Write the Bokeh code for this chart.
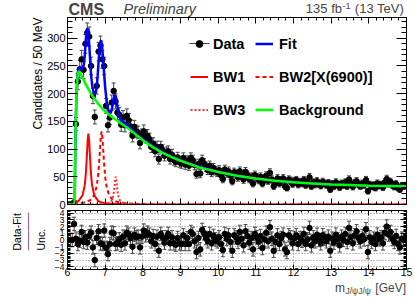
import numpy as np
from bokeh.plotting import figure
from bokeh.models import (ColumnDataSource, Label, Legend, LegendItem, LinearAxis,
                          Range1d, FixedTicker, Title)
from bokeh.layouts import column
from bokeh.embed import file_html
from bokeh.resources import INLINE

FONT = "Liberation Sans"

# ---------------- data ----------------
bin_start = 6.0
bin_width = 0.05
counts = [
    0, 0, 0, 4, 145, 222, 244, 262, 243, 290,
    310, 303, 250, 196, 158, 214, 276, 287, 262, 250,
    178, 143, 157, 184, 205, 186, 166, 162, 144, 157,
    143, 160, 152, 141, 124, 140, 132, 130, 111, 125,
    132, 122, 124, 118, 104, 110, 96, 104, 82, 104,
    98, 88, 94, 96, 82, 90, 80, 77, 85, 76,
    74, 84, 72, 79, 70, 84, 80, 71, 55, 73,
    56, 80, 74, 68, 62, 70, 58, 66, 61, 58,
    62, 53, 46, 63, 57, 60, 52, 42, 58, 55,
    49, 60, 52, 45, 59, 53, 46, 50, 38, 53,
    49, 44, 50, 38, 46, 52, 43, 57, 45, 33,
    41, 47, 38, 44, 47, 33, 30, 45, 43, 37,
    42, 44, 36, 41, 38, 44, 35, 39, 49, 33,
    40, 36, 42, 37, 34, 41, 38, 35, 39, 27,
    37, 33, 40, 36, 31, 38, 35, 40, 33, 45,
    37, 32, 39, 42, 36, 33, 38, 35, 44, 24,
    36, 32, 35, 30, 38, 34, 36, 31, 40, 46,
    38, 41, 35, 32, 37, 30, 27, 34, 33, 34,
]
pulls = [
    0, 0, 0, 2.4, 0.2, -0.6, -0.1, 1.2, -0.3, 0.4,
    -0.4, 0.6, 1.1, -1.1, -3.0, 0.3, 1.3, -0.5, -0.6, 1.4,
    -1.2, -2.1, -0.6, 1.1, 1.0, -0.6, -0.5, 0.1, -0.7, 0.5,
    -0.5, 1.1, 0.8, 0.3, -1.0, 0.8, 0.4, 0.5, -1.1, 0.5,
    1.4, 0.7, 1.1, 0.8, -0.2, 0.6, -0.6, 0.5, -1.6, 0.9,
    0.4, -0.4, 0.4, 0.9, -0.5, 0.4, -0.5, -0.7, 0.3, -0.5,
    -0.6, 0.7, -0.6, 0.3, -0.6, 1.2, 0.9, -0.2, -1.8, 0.3,
    -1.4, 1.5, 1.0, 0.3, -0.2, 0.9, -0.5, 0.6, 0.1, -0.2,
    0.4, -0.6, -1.5, 0.9, 0.2, 0.7, -0.3, -1.6, 0.7, 0.4,
    -0.3, 1.2, 0.2, -0.8, 1.3, 0.6, -0.4, 0.3, -1.4, 0.9,
    0.4, -0.3, 0.6, -1.2, 0.1, 1.1, -0.2, 1.9, 0.2, -1.6,
    -0.3, 0.7, -0.6, 0.3, 0.8, -1.4, -1.8, 0.7, 0.4, -0.5,
    0.3, 0.7, -0.6, 0.3, -0.1, 0.9, -0.6, 0.1, 1.8, -0.8,
    0.4, -0.2, 0.8, 0.0, -0.5, 0.7, 0.2, -0.2, 0.5, -1.6,
    0.2, -0.4, 0.8, 0.1, -0.8, 0.5, 0.0, 0.9, -0.3, 1.8,
    0.4, -0.5, 0.7, 1.3, 0.3, -0.2, 0.6, 0.1, 1.6, -1.8,
    0.4, -0.3, 0.2, -0.6, 0.8, 0.1, 0.4, -0.5, 1.1, 2.0,
    0.8, 1.2, 0.2, -0.3, 0.6, -0.6, -1.1, 0.2, 0.0, 0.3,
]

fit_x = [6.0, 6.19, 6.2, 6.21, 6.22, 6.235, 6.25, 6.265, 6.28, 6.3,
         6.33, 6.36, 6.39, 6.42, 6.44, 6.46, 6.48, 6.5, 6.515, 6.53,
         6.545, 6.56, 6.58, 6.6, 6.62, 6.64, 6.66, 6.68, 6.7, 6.72,
         6.74, 6.76, 6.78, 6.8, 6.82, 6.84, 6.86, 6.88, 6.895, 6.91,
         6.93, 6.95, 6.97, 7.0, 7.03, 7.06, 7.09, 7.12, 7.15, 7.18,
         7.21, 7.235, 7.26, 7.285, 7.31, 7.34, 7.37, 7.4, 7.45, 7.5,
         7.6, 7.7, 7.8, 7.9, 8.0, 8.25, 8.5, 8.75, 9.0, 9.5,
         10.0, 10.5, 11.0, 11.5, 12.0, 12.5, 13.0, 13.5, 14.0, 14.5, 15.0]
fit_y = [0, 0, 62, 110, 152, 190, 215, 232, 240, 246,
         247, 245, 244, 248, 256, 270, 290, 308, 316, 318,
         314, 304, 285, 262, 240, 224, 213, 206, 202, 200,
         201, 206, 216, 232, 252, 272, 287, 295, 296, 290,
         277, 258, 238, 212, 192, 178, 169, 165, 166, 172,
         184, 194, 198, 195, 184, 170, 160, 155, 151, 148,
         143, 136, 129, 123, 118, 106, 96, 87, 80, 68,
         59, 52, 47, 43, 40, 38, 36, 35, 34, 33.5, 33]

bkg_x = [6.0, 6.19, 6.195, 6.2, 6.21, 6.22, 6.235, 6.25, 6.265, 6.28,
         6.3, 6.32, 6.35, 6.4, 6.5, 6.6, 6.7, 6.8, 6.9, 7.0,
         7.2, 7.4, 7.6, 7.8, 8.0, 8.25, 8.5, 8.75, 9.0, 9.5,
         10.0, 10.5, 11.0, 11.5, 12.0, 12.5, 13.0, 13.5, 14.0, 14.5, 15.0]
bkg_y = [0, 0, 25, 60, 110, 150, 190, 213, 228, 236,
         240, 240, 236, 229, 215, 203, 192, 183, 175, 168,
         157, 147, 138, 127, 116, 104, 94, 86, 79, 67,
         58.5, 52, 47, 43, 40, 38, 36, 35, 34, 33.5, 33]

bw1_x = [6.0, 6.19, 6.2, 6.3, 6.4, 6.455, 6.475, 6.495, 6.515, 6.535, 6.555,
         6.575, 6.595, 6.615, 6.635, 6.655, 6.71, 6.81, 6.91, 7.055, 7.555, 8.5, 15.0]
bw1_y = [0, 0, 3.5, 6.7, 16.7, 34, 46, 64, 89, 115, 128,
         115, 89, 64, 46, 34, 16.7, 6.7, 3.5, 1.8, 0.46, 0.1, 0]

bw2_x = [6.0, 6.19, 6.2, 6.405, 6.605, 6.705, 6.775, 6.805, 6.83, 6.855, 6.88, 6.905,
         6.93, 6.955, 6.98, 7.005, 7.035, 7.105, 7.205, 7.405, 7.905, 9.0, 15.0]
bw2_y = [0, 0, 1.5, 2.9, 7.8, 16.3, 33, 47.5, 66, 91, 119, 132,
         119, 91, 66, 47.5, 33, 16.3, 7.8, 2.9, 0.74, 0.2, 0]

bw3_x = [6.0, 6.19, 6.88, 7.08, 7.16, 7.2, 7.22, 7.235, 7.25, 7.265, 7.28,
         7.295, 7.31, 7.325, 7.34, 7.36, 7.4, 7.48, 7.68, 9.0, 15.0]
bw3_y = [0, 0, 0.6, 2.4, 6.2, 12, 18, 25, 34.6, 45, 50,
         45, 34.6, 25, 18, 12, 6.2, 2.4, 0.6, 0.05, 0]

legend_labels = ["Data", "Fit", "BW1", "BW2[X(6900)]", "BW3", "Background"]

x_major = [6, 7, 8, 9, 10, 11, 12, 13, 14, 15]
x_minor = [round(v, 2) for v in np.arange(6.0, 15.0001, 0.2) if abs(v - round(v)) > 1e-6]
y1_major = [0, 50, 100, 150, 200, 250, 300]
y1_minor = [v for v in range(0, 340, 10) if v % 50]
y2_major = [-4, -3, -2, -1, 0, 1, 2, 3, 4]
y2_minor = [round(v, 1) for v in np.arange(-4.4, 4.41, 0.2) if abs(v - round(v)) > 1e-6]

# ---------------- page geometry (px) ----------------
WIDTH = 415
X0, X1 = 67, 406          # frame left / right
HEAD_H = 17
P1_H, P1_BOT = 192, 5     # main panel: frame 17..204
P2_H, P2_TOP, P2_BOT = 71, 1, 11   # pull panel: frame 210..269
FOOT_H = 18
Y1_END = 337.5
Y2 = 4.4
ERRC = "#444444"
MID = 0.3465              # em offset of the text-box middle above the baseline


def tick_only_axis(positions, length):
    ax = LinearAxis(ticker=FixedTicker(ticks=[], minor_ticks=positions))
    ax.major_tick_in = 0
    ax.major_tick_out = 0
    ax.minor_tick_in = length
    ax.minor_tick_out = 0
    ax.major_label_standoff = 0
    ax.axis_label_standoff = 0
    ax.minor_tick_line_color = "black"
    ax.axis_line_color = "black"
    return ax


def style_axis(ax, size, maj, mnr, standoff):
    ax.major_tick_in = maj
    ax.major_tick_out = 0
    ax.minor_tick_in = mnr
    ax.minor_tick_out = 0
    ax.major_label_text_font = FONT
    ax.major_label_text_font_size = size
    ax.major_label_text_color = "black"
    ax.major_label_standoff = standoff
    ax.axis_line_color = "black"
    ax.major_tick_line_color = "black"
    ax.minor_tick_line_color = "black"


def base_fig(h, xr, yr, top, bottom, **kw):
    f = figure(width=WIDTH, height=h, x_range=xr, y_range=yr, output_backend="svg",
               toolbar_location=None, min_border_left=X0, min_border_right=WIDTH - X1,
               min_border_top=top, min_border_bottom=bottom, **kw)
    f.background_fill_color = "white"
    f.border_fill_color = "white"
    return f


def text_strip(h, page_bottom):
    f = base_fig(h, Range1d(X0, X1), Range1d(0, h), 0, 0,
                 x_axis_location=None, y_axis_location=None)
    f.grid.visible = False
    f.outline_line_color = None
    f._yb = page_bottom
    return f


def put(f, px, baseline_py, text, size_px, **kw):
    mid_py = baseline_py - MID * size_px
    f.add_layout(Label(x=px, y=f._yb - mid_py, text=text, text_font=FONT,
                       text_font_size=f"{size_px}px", text_baseline="middle",
                       text_align=kw.pop("align", "left"), **kw))


def side_title(f, text, size, align, offset, standoff=0):
    f.add_layout(Title(text=text, align=align, offset=offset, standoff=standoff,
                       text_font=FONT, text_font_size=size, text_font_style="normal",
                       text_color="black"), "left")


n = len(counts)
centers = bin_start + bin_width * (np.arange(n) + 0.5)
cnt = np.array(counts, dtype=float)
err = np.sqrt(cnt)
src = ColumnDataSource(dict(x=centers, y=cnt, lo=cnt - err, hi=cnt + err))
pl = np.array(pulls, dtype=float)
psrc = ColumnDataSource(dict(x=centers, y=pl, lo=pl - 1, hi=pl + 1))

# ---------------- main panel ----------------
p1 = base_fig(P1_H, Range1d(6, 15), Range1d(0, Y1_END), 0, P1_BOT,
              x_axis_location=None, y_axis_location="left")
p1.grid.visible = False
p1.outline_line_color = "black"
p1.yaxis.ticker = FixedTicker(ticks=y1_major, minor_ticks=y1_minor)
style_axis(p1.yaxis[0], "11px", 10, 5, 2)
p1.add_layout(tick_only_axis(x_major, 6), "below")
p1.add_layout(tick_only_axis(x_minor, 3), "below")
p1.add_layout(tick_only_axis(x_major, 6), "above")
p1.add_layout(tick_only_axis(x_minor, 3), "above")
p1.add_layout(tick_only_axis(y1_major, 10), "right")
p1.add_layout(tick_only_axis(y1_minor, 5), "right")
side_title(p1, "Candidates / 50 MeV", "12px", "right", 0)

p1.segment(x0="x", y0="lo", x1="x", y1="hi", source=src, line_color=ERRC, line_width=1)
p1.scatter("x", "hi", source=src, marker="dash", size=4, line_color=ERRC, line_width=1)
p1.scatter("x", "lo", source=src, marker="dash", size=4, line_color=ERRC, line_width=1)
r_data = p1.scatter("x", "y", source=src, marker="circle", size=5.5,
                    fill_color="black", line_color="black")
r_errleg = p1.scatter("x", "y", source=src, marker="dash", angle=np.pi / 2, size=0,
                      line_color=ERRC, line_width=1)

r_bw1 = p1.line(bw1_x, bw1_y, line_color="#ff0000", line_width=2)
r_bw2 = p1.line(bw2_x, bw2_y, line_color="#ff0000", line_width=2, line_dash="4 3")
r_bw3 = p1.line(bw3_x, bw3_y, line_color="#ff3030", line_width=2, line_dash="2 2")
r_fit = p1.line(fit_x, fit_y, line_color="#0000ff", line_width=2.5)
r_bkg = p1.line(bkg_x, bkg_y, line_color="#00ff00", line_width=2.5)


def make_legend(items, x_off, vy, gw, gh, spacing, standoff, size="14.5px"):
    return Legend(items=items, location=(x_off, vy), orientation="vertical",
                  glyph_width=gw, glyph_height=gh, label_height=gh,
                  label_standoff=standoff, spacing=spacing, padding=0, margin=0,
                  border_line_alpha=0, background_fill_alpha=0, label_text_font=FONT,
                  label_text_font_style="bold", label_text_font_size=size,
                  label_text_color="black")


leg_err = make_legend([LegendItem(label=" ", renderers=[r_errleg])],
                      107, 136, 50, 50, 0, 0, "1px")
leg_left = make_legend([LegendItem(label=legend_labels[0], renderers=[r_data]),
                        LegendItem(label=legend_labels[2], renderers=[r_bw1]),
                        LegendItem(label=legend_labels[4], renderers=[r_bw3])],
                       123, 86, 18, 17, 16, 5)
leg_right = make_legend([LegendItem(label=legend_labels[1], renderers=[r_fit]),
                         LegendItem(label=legend_labels[3], renderers=[r_bw2]),
                         LegendItem(label=legend_labels[5], renderers=[r_bkg])],
                        188, 86, 18, 17, 16, 6)
p1.add_layout(leg_err)
p1.add_layout(leg_left)
p1.add_layout(leg_right)

# ---------------- pull panel ----------------
p2 = base_fig(P2_H, p1.x_range, Range1d(-Y2, Y2), P2_TOP, P2_BOT)
p2.outline_line_color = "black"
p2.xaxis.ticker = FixedTicker(ticks=x_major, minor_ticks=x_minor)
p2.yaxis.ticker = FixedTicker(ticks=y2_major, minor_ticks=y2_minor)
style_axis(p2.xaxis[0], "10.5px", 5, 2, -2)
style_axis(p2.yaxis[0], "8.5px", 6, 3, 3)
p2.add_layout(tick_only_axis(x_major, 5), "above")
p2.add_layout(tick_only_axis(x_minor, 2), "above")
p2.add_layout(tick_only_axis(y2_major, 6), "right")
p2.add_layout(tick_only_axis(y2_minor, 3), "right")
p2.xgrid.ticker = FixedTicker(ticks=x_major)
p2.ygrid.ticker = FixedTicker(ticks=y2_major)
p2.grid.grid_line_color = "#777777"
p2.grid.grid_line_dash = "1 2"
p2.grid.grid_line_width = 1
side_title(p2, "Unc.", "10.5px", "left", 19, standoff=9)
side_title(p2, "\u2014\u2014\u2014\u2014", "9.5px", "left", 19, standoff=-9)
side_title(p2, "Data-Fit", "10.5px", "left", 19, standoff=3)

p2.segment(x0="x", y0="lo", x1="x", y1="hi", source=psrc, line_color=ERRC, line_width=1)
p2.scatter("x", "hi", source=psrc, marker="dash", size=4, line_color=ERRC, line_width=1)
p2.scatter("x", "lo", source=psrc, marker="dash", size=4, line_color=ERRC, line_width=1)
p2.scatter("x", "y", source=psrc, marker="circle", size=5.5,
           fill_color="black", line_color="black")

# ---------------- header / footer text strips ----------------
head = text_strip(HEAD_H, HEAD_H)
put(head, 68, 14.5, "CMS", 16, text_font_style="bold")
put(head, 123, 14, "Preliminary", 14.5, text_font_style="italic")
put(head, 341.5, 13, "135 fb", 13, align="right")
put(head, 342, 8.3, "-1", 9)
put(head, 403.5, 13, "(13 TeV)", 13, align="right")

foot = text_strip(FOOT_H, 298)
put(foot, 344.5, 291.2, "m", 12, align="right")
put(foot, 345, 293, "J/\u03c8J/\u03c8", 8.5)
put(foot, 405.5, 291.2, "[GeV]", 12, align="right")

layout = column(head, p1, p2, foot)
open("out.html", "w").write(file_html(layout, INLINE))
